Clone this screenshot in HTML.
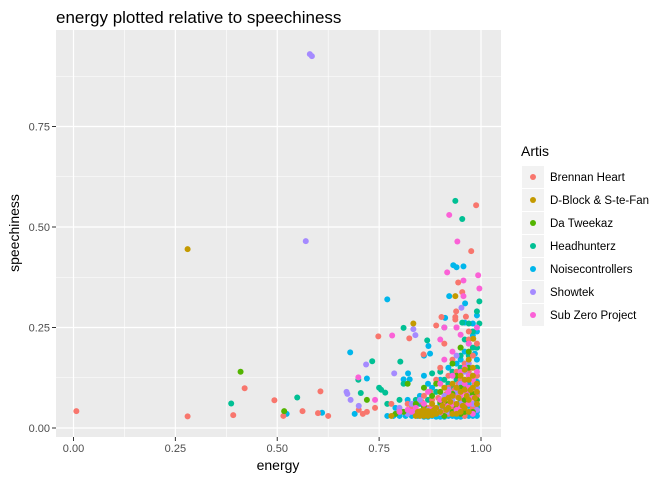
<!DOCTYPE html>
<html><head><meta charset="utf-8"><style>
body{margin:0;background:#fff;font-family:"Liberation Sans",Arial,sans-serif}
</style></head><body>
<svg id="chart" width="672" height="480" xmlns="http://www.w3.org/2000/svg" style="font-family:'Liberation Sans',Arial,sans-serif">
<rect width="672" height="480" fill="#fff"/>
<text x="56" y="23" font-size="17" fill="#000">energy plotted relative to speechiness</text>
<rect x="56" y="30" width="445" height="407" fill="#ebebeb"/>
<g id="grid"></g><g id="axes"></g><g id="points"></g><g id="legend"></g>
<text x="278" y="470" font-size="14" text-anchor="middle">energy</text>
<text transform="translate(19,233) rotate(-90)" font-size="14" text-anchor="middle">speechiness</text>
</svg>
<script>
const artists=["Brennan Heart","D-Block & S-te-Fan","Da Tweekaz","Headhunterz","Noisecontrollers","Showtek","Sub Zero Project"];
const colors=["#F8766D","#C49A00","#53B400","#00C094","#00B6EB","#A58AFF","#FB61D7"];
const xTicks=[0,0.25,0.5,0.75,1];
const xTickLabels=["0.00","0.25","0.50","0.75","1.00"];
const yTicks=[0,0.25,0.5,0.75];
const yTickLabels=["0.00","0.25","0.50","0.75"];
const brennan=[[0.007,0.042],[0.28,0.029],[0.392,0.032],[0.42,0.099],[0.493,0.069],[0.515,0.03],[0.562,0.042],[0.6,0.037],[0.606,0.091],[0.625,0.03],[0.7,0.045],[0.71,0.035],[0.72,0.04],[0.988,0.554],[0.976,0.44],[0.944,0.362],[0.954,0.338],[0.939,0.29],[0.903,0.276],[0.937,0.276],[0.963,0.277],[0.89,0.255],[0.748,0.228],[0.824,0.223],[0.937,0.27],[0.94,0.25],[0.97,0.22],[0.859,0.183],[0.99,0.21],[0.8,0.045],[0.82,0.06],[0.85,0.04],[0.87,0.05],[0.88,0.07],[0.9,0.09],[0.91,0.06],[0.92,0.1],[0.93,0.05],[0.94,0.08],[0.95,0.12],[0.96,0.06],[0.97,0.1],[0.98,0.05],[0.99,0.08],[0.9,0.15],[0.93,0.17],[0.95,0.2],[0.97,0.14],[0.89,0.12],[0.86,0.08],[0.96,0.03],[0.92,0.035],[0.84,0.035],[0.78,0.06],[0.74,0.05],[0.98,0.18],[0.94,0.14],[0.91,0.21],[0.97,0.24],[0.88,0.04],[0.95,0.045],[0.99,0.13],[0.92,0.13],[0.83,0.05],[0.855,0.065],[0.875,0.09],[0.895,0.075],[0.915,0.085],[0.935,0.095],[0.955,0.065],[0.965,0.085],[0.985,0.11],[0.945,0.11],[0.925,0.045],[0.905,0.04],[0.975,0.04],[0.96,0.16]];
const dblock=[[0.28,0.445],[0.937,0.328],[0.834,0.26],[0.981,0.222],[0.85,0.03],[0.855,0.035],[0.86,0.03],[0.865,0.038],[0.87,0.03],[0.875,0.035],[0.88,0.032],[0.86,0.045],[0.87,0.042],[0.84,0.03],[0.78,0.03],[0.89,0.05],[0.9,0.04],[0.91,0.07],[0.92,0.05],[0.93,0.08],[0.94,0.06],[0.95,0.09],[0.96,0.05],[0.97,0.07],[0.98,0.1],[0.99,0.06],[0.93,0.11],[0.95,0.13],[0.97,0.17],[0.96,0.12],[0.98,0.15],[0.91,0.1],[0.88,0.06],[0.94,0.035],[0.97,0.04],[0.99,0.09],[0.92,0.075],[0.96,0.095],[0.845,0.04],[0.852,0.042],[0.858,0.038],[0.868,0.033],[0.878,0.04],[0.885,0.045],[0.905,0.055],[0.915,0.045],[0.925,0.065],[0.945,0.075],[0.955,0.055],[0.965,0.08],[0.975,0.095],[0.985,0.075],[0.99,0.11],[0.94,0.1],[0.97,0.12],[0.98,0.13],[0.96,0.145],[0.95,0.04],[0.93,0.035],[0.89,0.035]];
const tweekaz=[[0.41,0.14],[0.517,0.042],[0.95,0.2],[0.97,0.19],[0.93,0.16],[0.82,0.11],[0.86,0.1],[0.9,0.09],[0.92,0.06],[0.94,0.05],[0.96,0.07],[0.98,0.04],[0.99,0.11],[0.88,0.08],[0.84,0.06],[0.87,0.035],[0.91,0.03],[0.95,0.035],[0.97,0.12],[0.93,0.04],[0.79,0.035],[0.72,0.07],[0.89,0.11],[0.98,0.085],[0.86,0.055],[0.9,0.065],[0.93,0.085],[0.95,0.1],[0.97,0.15],[0.99,0.07],[0.96,0.04],[0.94,0.13],[0.88,0.045],[0.81,0.04]];
const headhunterz=[[0.387,0.061],[0.549,0.076],[0.937,0.565],[0.954,0.52],[0.996,0.315],[0.954,0.262],[0.996,0.26],[0.81,0.249],[0.91,0.25],[0.868,0.218],[0.733,0.166],[0.802,0.165],[0.9,0.14],[0.88,0.136],[0.81,0.11],[0.75,0.1],[0.755,0.095],[0.765,0.088],[0.705,0.087],[0.699,0.12],[0.99,0.29],[0.99,0.2],[0.98,0.24],[0.97,0.18],[0.96,0.16],[0.95,0.15],[0.94,0.12],[0.93,0.1],[0.92,0.08],[0.91,0.12],[0.9,0.06],[0.89,0.09],[0.87,0.07],[0.85,0.06],[0.83,0.05],[0.8,0.07],[0.77,0.06],[0.99,0.15],[0.98,0.13],[0.97,0.09],[0.96,0.1],[0.95,0.07],[0.99,0.05],[0.98,0.2],[0.97,0.26],[0.96,0.22],[0.95,0.18],[0.93,0.14],[0.92,0.11],[0.86,0.05],[0.84,0.07]];
const noise=[[0.523,0.035],[0.61,0.038],[0.932,0.405],[0.94,0.4],[0.957,0.402],[0.922,0.328],[0.77,0.32],[0.961,0.31],[0.912,0.274],[0.96,0.262],[0.871,0.204],[0.679,0.188],[0.86,0.18],[0.875,0.185],[0.821,0.136],[0.86,0.13],[0.81,0.121],[0.825,0.121],[0.72,0.123],[0.69,0.035],[0.77,0.03],[0.8,0.03],[0.83,0.03],[0.86,0.028],[0.88,0.03],[0.9,0.028],[0.92,0.03],[0.94,0.028],[0.96,0.03],[0.98,0.03],[0.99,0.04],[0.99,0.07],[0.99,0.1],[0.99,0.13],[0.99,0.17],[0.99,0.2],[0.99,0.24],[0.99,0.28],[0.98,0.26],[0.97,0.21],[0.96,0.19],[0.95,0.17],[0.94,0.16],[0.92,0.15],[0.9,0.12],[0.88,0.1],[0.87,0.11],[0.85,0.08],[0.82,0.07],[0.79,0.05],[0.93,0.06],[0.91,0.045],[0.97,0.055],[0.95,0.1],[0.785,0.03],[0.815,0.03],[0.845,0.03],[0.87,0.028],[0.89,0.028],[0.91,0.028],[0.93,0.03],[0.95,0.028],[0.97,0.03],[0.99,0.03],[0.99,0.055],[0.99,0.085],[0.99,0.115],[0.99,0.15],[0.985,0.185],[0.98,0.23],[0.97,0.11],[0.94,0.085]];
const showtek=[[0.58,0.93],[0.585,0.925],[0.57,0.465],[0.952,0.299],[0.834,0.246],[0.839,0.231],[0.718,0.158],[0.787,0.136],[0.67,0.09],[0.672,0.085],[0.68,0.07],[0.7,0.055],[0.83,0.06],[0.84,0.04],[0.87,0.045],[0.9,0.05],[0.93,0.07],[0.95,0.11],[0.97,0.08],[0.98,0.06],[0.96,0.14],[0.94,0.09],[0.92,0.04],[0.99,0.045],[0.91,0.08],[0.8,0.05],[0.85,0.07],[0.94,0.18],[0.97,0.16],[0.81,0.04],[0.82,0.035],[0.96,0.12],[0.92,0.095],[0.99,0.1],[0.95,0.06]];
const subzero=[[0.922,0.53],[0.942,0.464],[0.917,0.387],[0.993,0.38],[0.957,0.367],[0.996,0.347],[0.957,0.328],[0.782,0.23],[0.91,0.25],[0.94,0.25],[0.99,0.25],[0.95,0.232],[0.9,0.22],[0.97,0.21],[0.699,0.126],[0.74,0.07],[0.8,0.04],[0.82,0.045],[0.84,0.05],[0.86,0.06],[0.88,0.05],[0.89,0.04],[0.9,0.07],[0.92,0.09],[0.93,0.06],[0.94,0.1],[0.95,0.08],[0.96,0.11],[0.97,0.06],[0.98,0.12],[0.99,0.09],[0.96,0.15],[0.93,0.13],[0.9,0.11],[0.87,0.09],[0.91,0.17],[0.98,0.035],[0.95,0.05],[0.85,0.035],[0.99,0.06],[0.97,0.13],[0.93,0.19],[0.83,0.04],[0.86,0.042],[0.9,0.038],[0.92,0.055],[0.94,0.045],[0.96,0.09],[0.98,0.075],[0.99,0.14],[0.95,0.14],[0.97,0.1]];
const seriesData=[brennan,dblock,tweekaz,headhunterz,noise,showtek,subzero];
const drawOrder=[4,3,0,5,2,6,1];

const NS="http://www.w3.org/2000/svg";
const xs=v=>73.5+v*407.5, ys=v=>428-v*402;
const L=56,R=501,T=30,B=437;
function mk(tag,attrs,parent){const e=document.createElementNS(NS,tag);for(const k in attrs)e.setAttribute(k,attrs[k]);parent.appendChild(e);return e;}
const grid=document.getElementById('grid'),axes=document.getElementById('axes'),pts=document.getElementById('points'),leg=document.getElementById('legend');
for(let i=0;i<xTicks.length-1;i++){const m=(xTicks[i]+xTicks[i+1])/2;const l=mk('line',{x1:xs(m),x2:xs(m),y1:T,y2:B,stroke:'#fff','stroke-width':0.6},grid);

}
for(let i=0;i<yTicks.length;i++){const m=yTicks[i]+0.125;const l=mk('line',{x1:L,x2:R,y1:ys(m),y2:ys(m),stroke:'#fff','stroke-width':0.6},grid);

}
xTicks.forEach((t,i)=>{const l=mk('line',{x1:xs(t),x2:xs(t),y1:T,y2:B,stroke:'#fff','stroke-width':1.2},grid);


const tk=mk('line',{x1:xs(t),x2:xs(t),y1:B,y2:B+4,stroke:'#333','stroke-width':1},axes);


const tx=mk('text',{x:xs(t),y:B+15,'font-size':11,fill:'#4d4d4d','text-anchor':'middle'},axes);tx.textContent=xTickLabels[i];

});
yTicks.forEach((t,i)=>{const l=mk('line',{x1:L,x2:R,y1:ys(t),y2:ys(t),stroke:'#fff','stroke-width':1.2},grid);


const tk=mk('line',{x1:L-4,x2:L,y1:ys(t),y2:ys(t),stroke:'#333','stroke-width':1},axes);


const tx=mk('text',{x:L-6,y:ys(t)+4,'font-size':11,fill:'#4d4d4d','text-anchor':'end'},axes);tx.textContent=yTickLabels[i];

});
drawOrder.forEach(si=>{seriesData[si].forEach(p=>{const c=mk('circle',{cx:xs(p[0]),cy:ys(p[1]),r:3,fill:colors[si]},pts);

});});
const lt=mk('text',{x:521,y:156,'font-size':14},leg);lt.textContent='Artis';


artists.forEach((a,i)=>{const cy=177+i*23;
const g=mk('g',{},leg);


mk('rect',{x:522,y:cy-11,width:22,height:22,fill:'#f2f2f2'},g);
mk('circle',{cx:533,cy:cy,r:3,fill:colors[i]},g);
const t=mk('text',{x:550,y:cy+4,'font-size':11.5,fill:'#000'},g);t.textContent=a;});
</script>
</body></html>
